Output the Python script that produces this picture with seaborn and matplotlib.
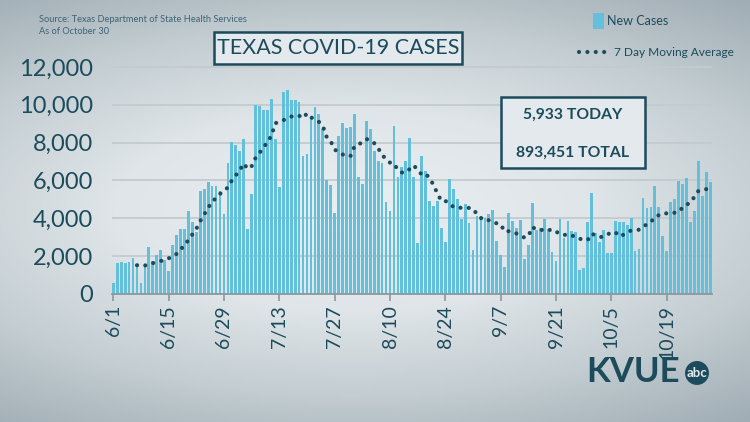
import numpy as np
import pandas as pd
import matplotlib
matplotlib.use("Agg")
import matplotlib.pyplot as plt
from matplotlib.colors import LinearSegmentedColormap
from matplotlib.lines import Line2D
from matplotlib.patches import Rectangle
import seaborn as sns

# daily new cases, 6/1 .. 10/30
new_cases = [
    580, 1660, 1700, 1630, 1680, 1890, 1500, 600, 1500, 2500,
    1750, 2070, 2300, 1810, 1210, 2570, 3110, 3460, 3410, 4400,
    3830, 3300, 5470, 5540, 5940, 5690, 5710, 5430, 4250, 6940,
    8050, 7870, 7540, 8210, 3410, 5270, 10000, 9950, 9750, 9750,
    10330, 8170, 5630, 10700, 10780, 10280, 10250, 10160, 7270, 7390,
    9280, 9860, 9510, 8700, 6010, 5780, 4290, 8330, 9040, 8780,
    8820, 9520, 6210, 5810, 9150, 8700, 7580, 7020, 6910, 4840,
    4410, 8880, 6170, 6730, 7010, 8220, 6180, 2680, 7280, 6500,
    4920, 4640, 4920, 3490, 2730, 6070, 5560, 5040, 3990, 4740,
    3740, 2350, 4130, 4130, 4000, 4220, 4460, 2800, 2050, 1430,
    4280, 3850, 3500, 3910, 1830, 2600, 4800, 3400, 3500, 3950,
    3450, 2230, 1730, 3960, 2970, 3860, 3330, 3290, 1290, 1380,
    3820, 5350, 3220, 2730, 3360, 2160, 2190, 3880, 3790, 3790,
    3650, 4040, 2270, 2370, 5060, 4550, 4620, 5700, 4580, 3040,
    2270, 4870, 5010, 5950, 5790, 6120, 3800, 4410, 7040, 5200,
    6440, 5933,
]
start_date = "2020-06-01"
tick_labels = ["6/1", "6/15", "6/29", "7/13", "7/27", "8/10", "8/24",
               "9/7", "9/21", "10/5", "10/19"]
y_ticks = [0, 2000, 4000, 6000, 8000, 10000, 12000]
title = "TEXAS COVID-19 CASES"
source_lines = ["Source: Texas Department of State Health Services", "As of October 30"]
today_text = "5,933 TODAY"
total_text = "893,451 TOTAL"

df = pd.DataFrame({"day": range(len(new_cases)), "cases": new_cases})
df["date"] = pd.date_range(start_date, periods=len(df))
df["avg7"] = df["cases"].rolling(7).mean()

TEAL = "#1c4b5c"
BAR = "#63bfda"
BG = "#e3e9ec"
DOTS = (0, (0.01, 2.0))

sns.set_theme(style="white")
plt.rcParams["font.family"] = ["Lato", "DejaVu Sans"]

W, H = 750, 422
fig = plt.figure(figsize=(W / 100, H / 100), dpi=100)

# grey vignette background
bg = fig.add_axes([0, 0, 1, 1], zorder=-10)
yy, xx = np.mgrid[0:1:211j, 0:1:375j]
r = np.sqrt(((xx - 0.47) / 1.0) ** 2 + ((yy - 0.5) / 0.75) ** 2)
cmap = LinearSegmentedColormap.from_list("bg", ["#e8edf0", "#dfe5e8", "#c3cdd2", "#a0adb4"])
bg.imshow(r, cmap=cmap, vmin=0.05, vmax=0.85, aspect="auto", extent=[0, 1, 0, 1])
bg.axis("off")


def fx(px):
    return px / W


def fy(py):
    return 1 - py / H


ax = fig.add_axes([fx(111.5), fy(294), fx(712 - 111.5), (294 - 61.3) / H])
ax.patch.set_alpha(0)

sns.barplot(data=df, x="day", y="cases", color=BAR, saturation=1, width=0.7,
            linewidth=0, native_scale=True, ax=ax, zorder=2)
sns.lineplot(data=df, x="day", y="avg7", color=TEAL, lw=3.0,
             linestyle=DOTS, dash_capstyle="round", ax=ax, zorder=3)

ax.set_xlim(-0.45, len(df) - 0.55)
ax.set_ylim(0, 12300)
ax.set_yticks(y_ticks)
ax.set_yticklabels([f"{v:,}" for v in y_ticks])
tick_pos = df.loc[df["day"] % 14 == 0, "day"].tolist()
ax.set_xticks(tick_pos)
ax.set_xticklabels(tick_labels, rotation=90)
ax.set_xlabel("")
ax.set_ylabel("")
ax.grid(axis="y", color="#c4cbcf", lw=1.3, zorder=0)
ax.set_axisbelow(True)
for s in ["top", "right", "left"]:
    ax.spines[s].set_visible(False)
ax.spines["bottom"].set_color("#8d989e")
ax.spines["bottom"].set_linewidth(1.3)
ax.tick_params(axis="y", length=0, pad=13, labelsize=17, labelcolor=TEAL)
ax.tick_params(axis="x", length=5, width=1.2, color="#8d989e", pad=3,
               labelsize=14, labelcolor=TEAL, bottom=True)

# header texts
fig.text(fx(39), fy(20), source_lines[0], fontsize=6.7, color="#3d6473", va="center")
fig.text(fx(39), fy(32), source_lines[1], fontsize=6.7, color="#3d6473", va="center")

fig.patches.append(Rectangle((fx(214), fy(64)), fx(248), (64 - 32) / H, transform=fig.transFigure,
                             fc=BG, ec=TEAL, lw=1.8, zorder=5))
fig.text(fx(338), fy(48), title, fontsize=15.5, color=TEAL, ha="center", va="center", zorder=6)

# legend
fig.patches.append(Rectangle((fx(593), fy(29)), fx(11), 16 / H, transform=fig.transFigure,
                             fc=BAR, ec="none"))
fig.text(fx(607), fy(21), "New Cases", fontsize=9, color=TEAL, va="center")
fig.lines.append(Line2D([fx(579), fx(608)], [fy(52), fy(52)], transform=fig.transFigure,
                        color=TEAL, lw=3.0, linestyle=DOTS, dash_capstyle="round"))
fig.text(fx(614), fy(52), "7 Day Moving Average", fontsize=8.6, color=TEAL, va="center")

# today / total box
fig.patches.append(Rectangle((fx(501), fy(168)), fx(144), (168 - 97) / H, transform=fig.transFigure,
                             fc=BG, ec=TEAL, lw=1.8, zorder=5))
fig.text(fx(573), fy(115), today_text, fontsize=11.3, weight="bold", color=TEAL,
         ha="center", va="center", zorder=6)
fig.text(fx(573), fy(153), total_text, fontsize=11.3, weight="bold", color=TEAL,
         ha="center", va="center", zorder=6)

# station logo
fig.text(fx(633), fy(372), "KVUE", fontsize=25, weight="bold", color=TEAL,
         ha="center", va="center")
fig.text(fx(697), fy(373), "abc", fontsize=9.5, weight="bold", color=BG, ha="center", va="center",
         bbox=dict(boxstyle="circle,pad=0.12", fc=TEAL, ec="none"))

fig.savefig("out.png", dpi=100)
